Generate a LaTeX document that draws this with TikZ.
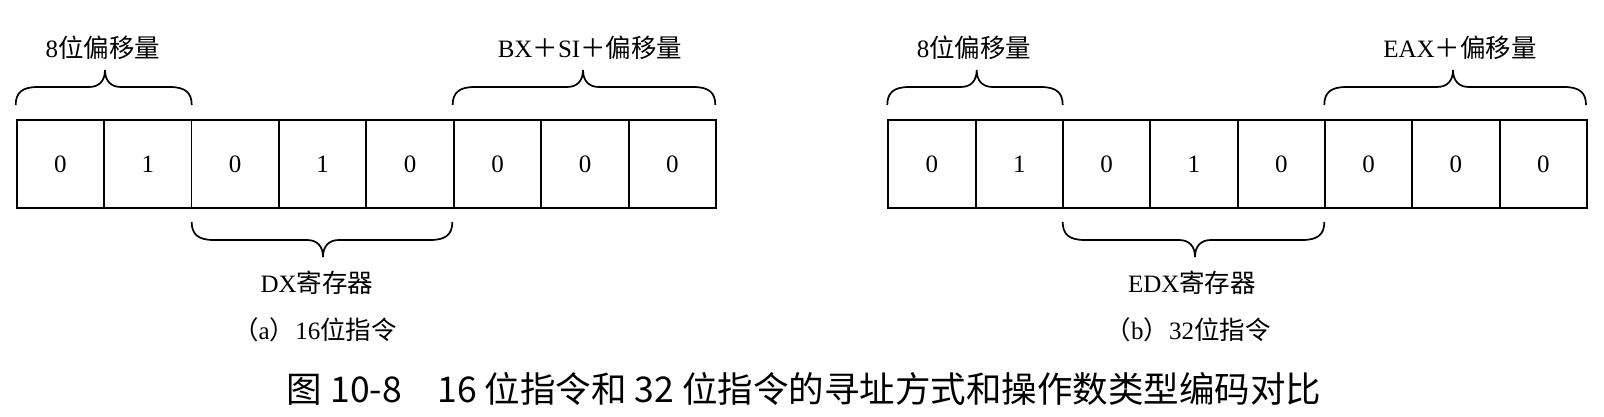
\documentclass[tikz,border=0pt]{standalone}
\usepackage{fontspec}
\setmainfont{Liberation Serif}
\newfontfamily\cjk[Scale=1.02]{Noto Sans CJK SC}
\newfontfamily\capfont{Noto Sans CJK SC}
\newcommand\mybrace[5]{% xL xR yEnd sign xTip
  \pgfmathsetmacro\yf{#3+#4*18}%
  \pgfmathsetmacro\yt{#3+#4*35}%
  \pgfmathsetmacro\yc{#3+#4*12}%
  \pgfmathsetmacro\yg{\yf+#4*6}%
  \draw[bracestyle] (#1,#3) .. controls (#1,\yc) and ({#1+6},\yf) .. ({#1+22},\yf)
    -- ({#5-16},\yf) .. controls ({#5-6},\yf) and (#5,\yg) .. (#5,\yt)
    .. controls (#5,\yg) and ({#5+6},\yf) .. ({#5+16},\yf)
    -- ({#2-22},\yf) .. controls ({#2-6},\yf) and (#2,\yc) .. (#2,#3);}
\begin{document}
\begin{tikzpicture}[x=1pt,y=-1pt,
  cell/.style={draw, line width=1.8pt, minimum width=87.4pt, minimum height=88pt,
    inner sep=0pt, anchor=north west, font=\fontsize{25}{25}\selectfont},
  lab/.style={inner sep=0pt, font=\fontsize{25}{28}\selectfont},
  bracestyle/.style={line width=1.7pt}]
\useasboundingbox (0,0) rectangle (1604,417);
% left row
\foreach \v [count=\i from 0] in {0,1,0,1,0,0,0,0}
  \node[cell] (a\i) at ({15.7+87.45*\i},119.3) {\v};
% right row
\foreach \v [count=\i from 0] in {0,1,0,1,0,0,0,0}
  \node[cell] (b\i) at ({887.3+87.34*\i},119.3) {\v};
% braces
\mybrace{15.7}{191.7}{105}{-1}{105}
\mybrace{452.7}{715.3}{105}{-1}{583}
\mybrace{191.7}{452.3}{222}{1}{323}
\mybrace{887.3}{1062.7}{105}{-1}{976.7}
\mybrace{1324.3}{1586}{105}{-1}{1453}
\mybrace{1062.7}{1324.3}{222}{1}{1195}
% labels
\node[lab] (t1) at (103,48) {8{\cjk 位偏移量}};
\node[lab] (t2) at (590,48) {BX{\cjk ＋}SI{\cjk ＋偏移量}};
\node[lab] (t3) at (317,283) {DX{\cjk 寄存器}};
\node[lab] (t4) at (315,330) {{\cjk （}a{\cjk ）}16{\cjk 位指令}};
\node[lab] (t5) at (974,48) {8{\cjk 位偏移量}};
\node[lab] (t6) at (1460,48) {EAX{\cjk ＋偏移量}};
\node[lab] (t7) at (1192,283) {EDX{\cjk 寄存器}};
\node[lab] (t8) at (1188,330) {{\cjk （}b{\cjk ）}32{\cjk 位指令}};
% caption
\node[inner sep=0pt] (cap) at (804,389) {\fontsize{35.5}{38}\capfont 图 10-8\hspace{1em}16 位指令和 32 位指令的寻址方式和操作数类型编码对比};
\end{tikzpicture}
\end{document}
